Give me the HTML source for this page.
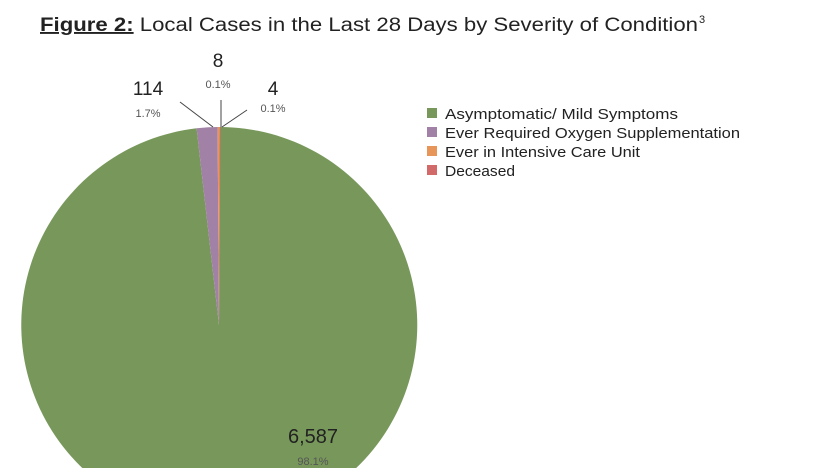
<!DOCTYPE html>
<html><head><style>
html,body{margin:0;background:#fff;width:830px;height:468px;overflow:hidden;font-family:"Liberation Sans",sans-serif;}
svg{display:block;overflow:hidden;}
</style></head><body>
<svg width="830" height="468" viewBox="0 0 830 468" xmlns="http://www.w3.org/2000/svg" font-family="Liberation Sans, sans-serif">
<text x="40" y="31" font-size="19" fill="#222" textLength="658" lengthAdjust="spacingAndGlyphs"><tspan font-weight="bold" text-decoration="underline">Figure 2:</tspan> Local Cases in the Last 28 Days by Severity of Condition</text>
<text x="699" y="23" font-size="11" fill="#222">3</text>
<path d="M219,325 L220,127 A198,198 0 1 1 196.6,128.3 Z" fill="#78985b"/>
<path d="M219,325 L196.6,128.3 A198,198 0 0 1 217.6,127 Z" fill="#a281a6"/>
<path d="M219,325 L217.6,127 A198,198 0 0 1 219.6,127 Z" fill="#e8955a"/>
<path d="M219,325 L219.6,127 A198,198 0 0 1 220.5,127 Z" fill="#d36a6a"/>
<g stroke="#444" stroke-width="1">
<line x1="180" y1="102" x2="213" y2="127"/>
<line x1="221" y1="100" x2="221" y2="127"/>
<line x1="247" y1="110" x2="222" y2="127"/>
</g>
<g text-anchor="middle" fill="#222">
<text x="218" y="67" font-size="19">8</text>
<text x="218" y="88" font-size="11" fill="#555">0.1%</text>
<text x="148" y="95" font-size="19">114</text>
<text x="148" y="117" font-size="11" fill="#555">1.7%</text>
<text x="273" y="95" font-size="19">4</text>
<text x="273" y="112" font-size="11" fill="#555">0.1%</text>
<text x="313" y="443" font-size="20">6,587</text>
<text x="313" y="465" font-size="11" fill="#555">98.1%</text>
</g>
<rect x="427" y="108" width="10" height="10" fill="#78985b"/>
<rect x="427" y="127" width="10" height="10" fill="#a281a6"/>
<rect x="427" y="146" width="10" height="10" fill="#e8955a"/>
<rect x="427" y="165" width="10" height="10" fill="#d36a6a"/>
<g font-size="15" fill="#222" lengthAdjust="spacingAndGlyphs">
<text x="445" y="119" textLength="233" lengthAdjust="spacingAndGlyphs">Asymptomatic/ Mild Symptoms</text>
<text x="445" y="138" textLength="295" lengthAdjust="spacingAndGlyphs">Ever Required Oxygen Supplementation</text>
<text x="445" y="157" textLength="195" lengthAdjust="spacingAndGlyphs">Ever in Intensive Care Unit</text>
<text x="445" y="176" textLength="70" lengthAdjust="spacingAndGlyphs">Deceased</text>
</g>
</svg>
</body></html>
